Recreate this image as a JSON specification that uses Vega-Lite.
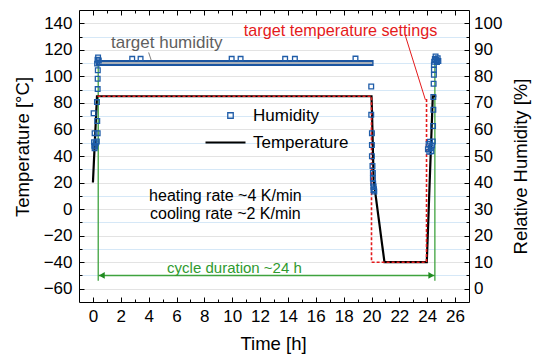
{
  "$schema": "https://vega.github.io/schema/vega-lite/v6.json",
  "width": 390,
  "height": 292,
  "autosize": {"type": "none"},
  "padding": {"left": 79, "top": 10, "right": 64, "bottom": 52},
  "config": {
    "font": "Liberation Sans",
    "view": {"stroke": null},
    "axis": {
      "domainColor": "black",
      "domainWidth": 1,
      "tickColor": "black",
      "tickWidth": 1,
      "labelFont": "Liberation Sans",
      "labelFontSize": 17,
      "labelColor": "black",
      "labelFlush": false,
      "titleFont": "Liberation Sans",
      "titleFontSize": 18.5,
      "titleFontWeight": "normal",
      "titleColor": "black",
      "grid": false
    },
    "legend": {
      "labelFont": "Liberation Sans",
      "labelFontSize": 17,
      "labelColor": "black"
    }
  },
  "datasets": {
    "temperature": [
      {"t": 0.0, "T": 20},
      {"t": 0.29, "T": 85},
      {"t": 20.0, "T": 85},
      {"t": 20.04, "T": 72},
      {"t": 20.1, "T": 45},
      {"t": 20.15, "T": 22},
      {"t": 20.93, "T": -40},
      {"t": 23.97, "T": -40},
      {"t": 24.4, "T": 85},
      {"t": 24.65, "T": 85}
    ],
    "setpoint": [
      {"t": 0.33, "T": 85},
      {"t": 19.999, "T": 85},
      {"t": 20.0, "T": -40},
      {"t": 23.95, "T": -40},
      {"t": 23.951, "T": 83}
    ],
    "cycle": [
      {"t": 0.38},
      {"t": 24.55}
    ],
    "band": [
      {"t": 0.2, "H": 85},
      {"t": 20.15, "H": 85}
    ],
    "targetHumidity": [
      {"t": 0.4, "H": 85},
      {"t": 20.05, "H": 85}
    ],
    "humidity": [
      {"t": 0.05, "H": 66.1},
      {"t": 0.31, "H": 63.2},
      {"t": 0.29, "H": 70.3},
      {"t": 0.34, "H": 75.2},
      {"t": 0.34, "H": 79.1},
      {"t": 0.35, "H": 82.3},
      {"t": 0.12, "H": 58.6},
      {"t": 0.34, "H": 58.6},
      {"t": 0.08, "H": 55.2},
      {"t": 0.1, "H": 53.9},
      {"t": 0.12, "H": 52.9},
      {"t": 0.16, "H": 53.6},
      {"t": 0.2, "H": 54.8},
      {"t": 0.28, "H": 55.5},
      {"t": 0.3, "H": 84.8},
      {"t": 0.33, "H": 86.3},
      {"t": 0.37, "H": 87.1},
      {"t": 0.42, "H": 86.0},
      {"t": 2.82, "H": 86.6},
      {"t": 3.42, "H": 86.6},
      {"t": 9.96, "H": 86.6},
      {"t": 10.6, "H": 86.6},
      {"t": 13.8, "H": 86.6},
      {"t": 14.5, "H": 86.6},
      {"t": 18.85, "H": 86.7},
      {"t": 19.98, "H": 76.2},
      {"t": 19.98, "H": 65.5},
      {"t": 20.03, "H": 58.6},
      {"t": 20.03, "H": 54.1},
      {"t": 20.03, "H": 49.9},
      {"t": 20.07, "H": 46.2},
      {"t": 20.1, "H": 43.6},
      {"t": 20.1, "H": 41.5},
      {"t": 20.12, "H": 39.6},
      {"t": 20.14, "H": 37.2},
      {"t": 20.15, "H": 38.5},
      {"t": 20.18, "H": 37.5},
      {"t": 20.2, "H": 36.6},
      {"t": 24.05, "H": 52.5},
      {"t": 24.1, "H": 54.5},
      {"t": 24.15, "H": 51.6},
      {"t": 24.2, "H": 55.4},
      {"t": 24.25, "H": 53.0},
      {"t": 24.3, "H": 51.8},
      {"t": 24.35, "H": 54.0},
      {"t": 24.4, "H": 55.5},
      {"t": 24.42, "H": 61.3},
      {"t": 24.44, "H": 67.4},
      {"t": 24.44, "H": 72.2},
      {"t": 24.46, "H": 77.2},
      {"t": 24.48, "H": 80.6},
      {"t": 24.48, "H": 82.5},
      {"t": 24.48, "H": 84.4},
      {"t": 24.5, "H": 85.5},
      {"t": 24.55, "H": 86.5},
      {"t": 24.6, "H": 87.5},
      {"t": 24.65, "H": 86.2},
      {"t": 24.7, "H": 85.4},
      {"t": 24.75, "H": 86.8},
      {"t": 24.8, "H": 85.8}
    ]
  },
  "layer": [
    {
      "layer": [
        {
          "data": {"name": "cycle"},
          "mark": {"type": "rule", "color": "#3ea33e", "strokeWidth": 1.3},
          "encoding": {
            "x": {
              "field": "t",
              "type": "quantitative",
              "scale": {"domain": [-1, 27], "nice": false, "zero": false},
              "axis": {
                "orient": "bottom",
                "title": null,
                "labels": false,
                "domain": false,
                "values": [1,3,5,7,9,11,13,15,17,19,21,23,25],
                "tickCount": 60,
                "tickSize": -3
              }
            },
            "y": {
              "datum": -54,
              "type": "quantitative",
              "scale": {"domain": [-70, 150], "nice": false, "zero": false},
              "axis": {
                "orient": "left",
                "title": null,
                "labels": false,
                "domain": false,
                "values": [-50,-30,-10,10,30,50,70,90,110,130],
                "tickCount": 60,
                "tickSize": -3,
                "grid": true,
                "gridWidth": 1.2,
                "gridColor": "#d6e8f7"
              }
            },
            "y2": {"datum": 110}
          }
        },
        {
          "data": {"values": [{}]},
          "mark": {"type": "rule", "color": "#3ea33e", "strokeWidth": 1.5},
          "encoding": {
            "x": {"datum": 0.38, "type": "quantitative"},
            "x2": {"datum": 24.55},
            "y": {"datum": -50, "type": "quantitative"}
          }
        },
        {
          "data": {"values": [{}]},
          "mark": {"type": "point", "shape": "triangle-left", "filled": true, "size": 45, "color": "#1f8a1f", "opacity": 1},
          "encoding": {
            "x": {"datum": 0.64, "type": "quantitative"},
            "y": {"datum": -50, "type": "quantitative"}
          }
        },
        {
          "data": {"values": [{}]},
          "mark": {"type": "point", "shape": "triangle-right", "filled": true, "size": 45, "color": "#1f8a1f", "opacity": 1},
          "encoding": {
            "x": {"datum": 24.29, "type": "quantitative"},
            "y": {"datum": -50, "type": "quantitative"}
          }
        },
        {
          "data": {"values": [{}]},
          "mark": {"type": "rule", "color": "#e41a1c", "strokeWidth": 1},
          "encoding": {
            "x": {"datum": 22.44, "type": "quantitative"},
            "y": {"datum": 130.3, "type": "quantitative"},
            "x2": {"datum": 23.87},
            "y2": {"datum": 82.3}
          }
        },
        {
          "data": {"values": [{}]},
          "mark": {"type": "rule", "color": "#808080", "strokeWidth": 1},
          "encoding": {
            "x": {"datum": 4.0, "type": "quantitative"},
            "y": {"datum": 118, "type": "quantitative"},
            "x2": {"datum": 4.25},
            "y2": {"datum": 110}
          }
        },
        {
          "data": {"values": [{}]},
          "mark": {"type": "text", "text": "target temperature settings", "color": "#e41a1c", "fontSize": 16.2, "align": "center", "baseline": "middle"},
          "encoding": {
            "x": {"datum": 17.78, "type": "quantitative"},
            "y": {"datum": 134.1, "type": "quantitative"}
          }
        },
        {
          "data": {"values": [{}]},
          "mark": {"type": "text", "text": "target humidity", "color": "#5f5f5f", "fontSize": 17, "align": "center", "baseline": "middle"},
          "encoding": {
            "x": {"datum": 5.3, "type": "quantitative"},
            "y": {"datum": 125.3, "type": "quantitative"}
          }
        },
        {
          "data": {"values": [{}]},
          "mark": {"type": "text", "text": "heating rate ~4 K/min", "color": "black", "fontSize": 16, "align": "center", "baseline": "middle"},
          "encoding": {
            "x": {"datum": 9.51, "type": "quantitative"},
            "y": {"datum": 9.6, "type": "quantitative"}
          }
        },
        {
          "data": {"values": [{}]},
          "mark": {"type": "text", "text": "cooling rate ~2 K/min", "color": "black", "fontSize": 16, "align": "center", "baseline": "middle"},
          "encoding": {
            "x": {"datum": 9.51, "type": "quantitative"},
            "y": {"datum": -3.5, "type": "quantitative"}
          }
        },
        {
          "data": {"values": [{}]},
          "mark": {"type": "text", "text": "cycle duration ~24 h", "color": "#2f9a2f", "fontSize": 15, "align": "center", "baseline": "middle"},
          "encoding": {
            "x": {"datum": 10.16, "type": "quantitative"},
            "y": {"datum": -44.4, "type": "quantitative"}
          }
        }
      ]
    },
    {
      "layer": [
        {
          "data": {"name": "temperature"},
          "mark": {"type": "line", "color": "black", "strokeWidth": 2.2},
          "encoding": {
            "x": {
              "field": "t",
              "type": "quantitative",
              "scale": {"domain": [-1, 27], "nice": false, "zero": false},
              "axis": {
                "orient": "bottom",
                "title": "Time [h]",
                "values": [0,2,4,6,8,10,12,14,16,18,20,22,24,26],
                "format": "d",
                "labelOverlap": false,
                "tickCount": 60,
                "tickSize": -5,
                "labelPadding": 11,
                "titleX": 194,
                "titleY": 41,
                "titleBaseline": "middle"
              }
            },
            "y": {
              "field": "T",
              "type": "quantitative",
              "scale": {"domain": [-70, 150], "nice": false, "zero": false},
              "axis": {
                "orient": "left",
                "title": "Temperature [°C]",
                "values": [-60,-40,-20,0,20,40,60,80,100,120,140],
                "format": "d",
                "labelOverlap": false,
                "tickCount": 60,
                "tickSize": -5,
                "labelPadding": 12,
                "grid": true,
                "gridWidth": 1.2,
                "gridColor": "#e3e3e3",
                "titleX": -57,
                "titleY": 136.5,
                "titleAngle": -90,
                "titleBaseline": "middle",
                "titleAlign": "center"
              }
            },
            "strokeDash": {
              "datum": "Temperature",
              "type": "nominal",
              "scale": {"domain": ["Temperature"], "range": [[1, 0]]},
              "legend": {
                "orient": "none",
                "legendX": 125,
                "legendY": 111,
                "title": null,
                "symbolType": "stroke",
                "symbolSize": 1600,
                "symbolStrokeColor": "black",
                "symbolStrokeWidth": 2.2,
                "labelOffset": 6
              }
            }
          }
        },
        {
          "data": {"name": "setpoint"},
          "mark": {"type": "line", "color": "#e41a1c", "strokeWidth": 1.6, "strokeDash": [3, 2]},
          "encoding": {
            "x": {"field": "t", "type": "quantitative"},
            "y": {"field": "T", "type": "quantitative"}
          }
        }
      ]
    },
    {
      "layer": [
        {
          "data": {"name": "band"},
          "mark": {"type": "line", "color": "#1b55a0", "strokeWidth": 6, "strokeCap": "butt"},
          "encoding": {
            "x": {
              "field": "t",
              "type": "quantitative",
              "scale": {"domain": [-1, 27], "nice": false, "zero": false},
              "axis": null
            },
            "y": {
              "field": "H",
              "type": "quantitative",
              "scale": {"domain": [-5, 105], "nice": false, "zero": false},
              "axis": {
                "orient": "right",
                "title": null,
                "labels": false,
                "domain": false,
                "values": [5,15,25,35,45,55,65,75,85,95],
                "tickCount": 60,
                "tickSize": -3
              }
            }
          }
        },
        {
          "data": {"name": "targetHumidity"},
          "mark": {"type": "line", "color": "#a9b0b8", "strokeWidth": 2, "strokeCap": "butt"},
          "encoding": {
            "x": {"field": "t", "type": "quantitative"},
            "y": {"field": "H", "type": "quantitative"}
          }
        }
      ]
    },
    {
      "layer": [
        {
          "data": {"name": "humidity"},
          "mark": {"type": "point", "shape": "square", "filled": false, "size": 22, "strokeWidth": 1.3, "opacity": 1},
          "encoding": {
            "x": {
              "field": "t",
              "type": "quantitative",
              "scale": {"domain": [-1, 27], "nice": false, "zero": false},
              "axis": {
                "orient": "top",
                "title": null,
                "labels": false,
                "values": [0,1,2,3,4,5,6,7,8,9,10,11,12,13,14,15,16,17,18,19,20,21,22,23,24,25,26],
                "tickCount": 60,
                "tickSize": {"condition": {"test": "datum.value % 2 === 0", "value": -5}, "value": -3}
              }
            },
            "y": {
              "field": "H",
              "type": "quantitative",
              "scale": {"domain": [-5, 105], "nice": false, "zero": false},
              "axis": {
                "orient": "right",
                "title": "Relative Humidity [%]",
                "values": [0,10,20,30,40,50,60,70,80,90,100],
                "format": "d",
                "labelOverlap": false,
                "tickCount": 60,
                "tickSize": -5,
                "labelPadding": 9.6,
                "titleX": 51,
                "titleY": 156,
                "titleAngle": -90,
                "titleBaseline": "middle",
                "titleAlign": "center"
              }
            },
            "color": {
              "datum": "Humidity",
              "type": "nominal",
              "scale": {"domain": ["Humidity"], "range": ["#1f5ca8"]},
              "legend": {
                "orient": "none",
                "legendX": 143,
                "legendY": 97,
                "title": null,
                "symbolType": "square",
                "symbolSize": 30,
                "symbolStrokeWidth": 1.3,
                "labelOffset": 14
              }
            }
          }
        }
      ]
    }
  ],
  "resolve": {
    "scale": {"y": "independent"},
    "axis": {"x": "independent", "y": "independent"}
  }
}
